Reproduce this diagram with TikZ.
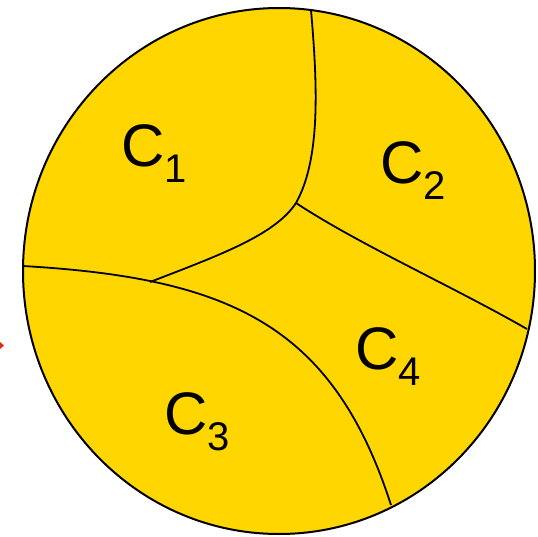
\documentclass[tikz,border=0pt]{standalone}
\usepackage{fontspec}
\setmainfont{Liberation Sans}
\usetikzlibrary{positioning}
\definecolor{RegionGold}{RGB}{255,214,0}
\definecolor{MarkRed}{RGB}{230,40,20}
\newcommand{\regname}[1]{{\fontsize{30}{36}\selectfont C}\raisebox{-8pt}{\fontsize{20}{24}\selectfont #1}}
\tikzset{
  disc/.style={draw=black,fill=RegionGold,line width=1pt},
  border/.style={draw=black,line width=0.9pt},
  cname/.style={inner sep=0pt,anchor=base west,text=black},
}
\begin{document}
\begin{tikzpicture}[x=0.5pt,y=-0.5pt]
  \useasboundingbox (0,0) rectangle (538,537);
  % Disc
  \draw[disc] (279,271) ellipse [x radius=256, y radius=263];
  % Boundaries
  \coordinate (top) at (311,10);
  \coordinate (jct) at (296,203);
  \coordinate (tip) at (150,282);
  \coordinate (rim) at (527,329);
  \coordinate (lft) at (23,266);
  \coordinate (bot) at (391,505);
  \draw[border] (top) .. controls (318,90) and (320,160) .. (jct)
                      .. controls (275,235) and (220,255) .. (tip);
  \draw[border] (jct) .. controls (360,245) and (450,285) .. (rim);
  \draw[border] (lft) .. controls (230,278) and (333,325) .. (bot);
  % Regions
  \node[cname] (c1) at (121,166) {\regname{1}};
  \node[cname] (c2) at (380,183) {\regname{2}};
  \node[cname] (c3) at (164,434) {\regname{3}};
  \node[cname] (c4) at (355,369) {\regname{4}};
  % Red mark
  \fill[MarkRed] (0,342) -- (4,345.5) -- (0,349) -- cycle;
\end{tikzpicture}
\end{document}
